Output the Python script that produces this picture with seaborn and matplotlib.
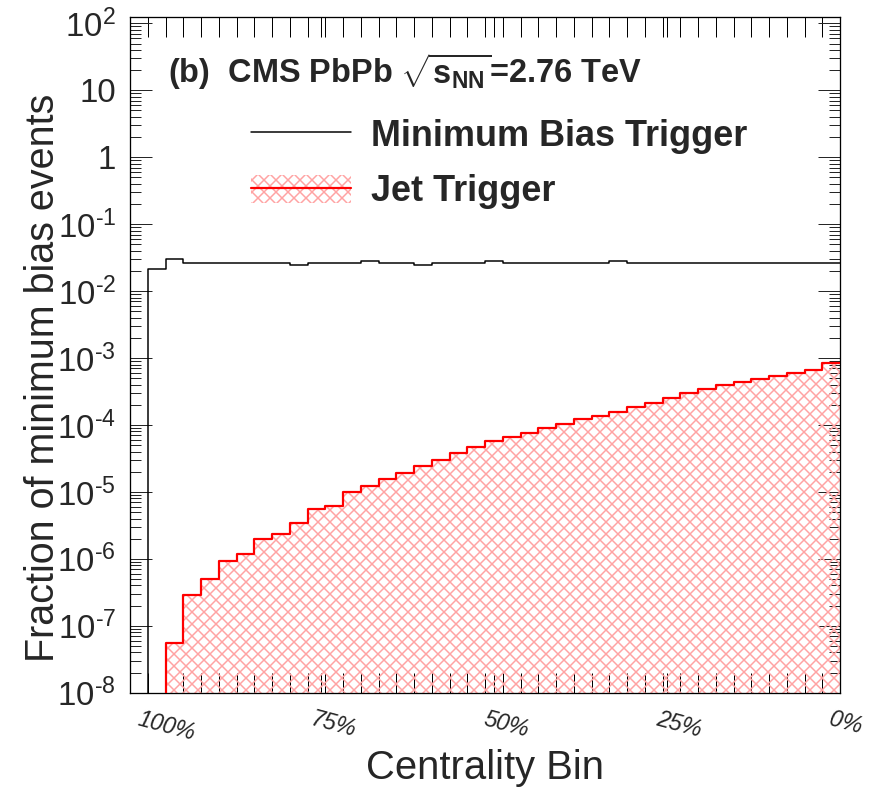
import numpy as np
import pandas as pd
import matplotlib
matplotlib.use("Agg")
import matplotlib.pyplot as plt
import matplotlib.transforms as mtransforms
import seaborn as sns
from matplotlib.lines import Line2D
from matplotlib.patches import Patch
from matplotlib.legend_handler import HandlerTuple
from matplotlib.ticker import FixedLocator, LogLocator, NullFormatter

# Centrality bins: slot 0 is empty, slots 1..39 run from 100% (peripheral) to 0% (central)
bin_edges = list(range(41))
bin_index = np.arange(40)

# Fraction of minimum-bias events per centrality bin
min_bias_fraction = [
    0.0, 0.0211, 0.0300, 0.026, 0.026, 0.026, 0.026, 0.026, 0.026, 0.0244,
    0.026, 0.026, 0.026, 0.0283, 0.026, 0.026, 0.0244, 0.026, 0.026, 0.026,
    0.0283, 0.026, 0.026, 0.026, 0.026, 0.026, 0.026, 0.0283, 0.026, 0.026,
    0.026, 0.026, 0.026, 0.026, 0.026, 0.026, 0.026, 0.026, 0.026, 0.026,
]
jet_trigger_fraction = [
    0.0, 0.0, 5.6e-8, 2.87e-7, 5.0e-7, 9.2e-7, 1.17e-6, 1.95e-6, 2.39e-6, 3.49e-6,
    5.65e-6, 6.2e-6, 9.8e-6, 1.23e-5, 1.55e-5, 1.93e-5, 2.42e-5, 3.04e-5, 3.82e-5, 4.7e-5,
    5.8e-5, 6.6e-5, 7.7e-5, 9.0e-5, 1.05e-4, 1.22e-4, 1.36e-4, 1.56e-4, 1.84e-4, 2.13e-4,
    2.53e-4, 3.0e-4, 3.5e-4, 4.0e-4, 4.4e-4, 4.9e-4, 5.4e-4, 6.0e-4, 6.7e-4, 8.5e-4,
]

centrality_label_pos = [1, 10.75, 20.5, 30.25, 40]
centrality_labels = ["100%", "75%", "50%", "25%", "0%"]
y_tick_exponents = list(range(-8, 3))


def decade_label(e):
    if e == 0:
        return "1"
    if e == 1:
        return "10"
    sign = "\u2010" if e < 0 else ""
    return f"$10^{{{sign}{abs(e)}}}$"


y_tick_labels = [decade_label(e) for e in y_tick_exponents]

sns.set_style("ticks")
plt.rcParams.update({
    "font.family": ["Liberation Sans", "DejaVu Sans"],
    "mathtext.fontset": "custom",
    "mathtext.rm": "Liberation Sans",
    "mathtext.it": "Liberation Sans:italic",
    "mathtext.bf": "Liberation Sans:bold",
    "mathtext.default": "regular",
    "hatch.linewidth": 1.5,
    "axes.linewidth": 1.3,
    "axes.edgecolor": "black",
})

hatch_color = "#ffa3a3"

df = pd.DataFrame({
    "bin": bin_index + 0.5,
    "min_bias": min_bias_fraction,
    "jet": jet_trigger_fraction,
})

fig = plt.figure(figsize=(871 / 72, 787 / 72), dpi=72)
ax = fig.add_axes([130 / 871, 1 - 692.7 / 787, 710 / 871, 676 / 787])
ax.set_yscale("log")

# Jet-triggered fraction: hatched area plus red outline
sns.histplot(data=df, x="bin", weights="jet", bins=bin_edges, element="step",
             fill=True, color=hatch_color, facecolor="none", edgecolor=hatch_color,
             linewidth=0, hatch="xx", zorder=2, ax=ax)
sns.histplot(data=df, x="bin", weights="jet", bins=bin_edges, element="step",
             fill=False, color="red", linewidth=2.2, zorder=3, ax=ax)
# Minimum-bias fraction
sns.histplot(data=df, x="bin", weights="min_bias", bins=bin_edges, element="step",
             fill=False, color="black", linewidth=1.5, zorder=3, ax=ax)

ax.set_xlim(0, 40)
ax.set_ylim(1e-8, 10 ** 2.1)

# x axis: a tick at every bin edge, labels at the quarter points
ax.xaxis.set_major_locator(FixedLocator(centrality_label_pos))
ax.set_xticklabels(centrality_labels)
ax.xaxis.set_minor_locator(FixedLocator(bin_edges[1:]))
ax.tick_params(axis="x", which="both", direction="in", top=True, bottom=True,
               length=20, width=1.0, color="black")
ax.tick_params(axis="x", which="major", labelsize=23, pad=15)
for lbl in ax.get_xticklabels():
    lbl.set_rotation(-15)
    lbl.set_rotation_mode("anchor")
    lbl.set_ha("left")
    lbl.set_va("top")
    lbl.set_fontstyle("italic")
    lbl.set_transform(lbl.get_transform() +
                      mtransforms.ScaledTranslation(-7 / 72, 0, fig.dpi_scale_trans))

# y axis: log decades with minor ticks
ax.set_yticks([10.0 ** e for e in y_tick_exponents], y_tick_labels)
ax.yaxis.set_minor_locator(LogLocator(base=10, subs=np.arange(2, 10), numticks=30))
ax.yaxis.set_minor_formatter(NullFormatter())
ax.tick_params(axis="y", which="major", direction="in", left=True, right=True,
               length=22, width=1.0, labelsize=33, pad=14)
ax.tick_params(axis="y", which="minor", direction="in", left=True, right=True,
               length=11, width=1.0)

ax.set_xlabel("Centrality Bin", fontsize=40)
ax.set_ylabel("Fraction of minimum bias events", fontsize=39.5)
ax.xaxis.set_label_coords(0.5, -0.083)
ax.yaxis.set_label_coords(-0.0958, 0.466)

ax.text(0.0535, 0.902, r"(b)  CMS PbPb $\sqrt{\mathbf{s}_{\mathbf{NN}}}$=2.76 TeV",
        transform=ax.transAxes, fontsize=32.5, fontweight="bold", va="baseline")

handles = [
    Line2D([], [], color="black", linewidth=1.5),
    (Patch(facecolor="none", edgecolor=hatch_color, hatch="xx", linewidth=0),
     Line2D([], [], color="red", linewidth=2.2)),
]
ax.legend(handles, ["Minimum Bias Trigger", "Jet Trigger"],
          handler_map={tuple: HandlerTuple(ndivide=1)},
          frameon=False, prop={"weight": "bold", "size": 36},
          handlelength=2.78, handleheight=0.85, handletextpad=0.56,
          labelspacing=0.574, loc="upper left", bbox_to_anchor=(0.17, 0.849),
          borderpad=0, borderaxespad=0)

fig.savefig("out.png", dpi=72, facecolor="white")
